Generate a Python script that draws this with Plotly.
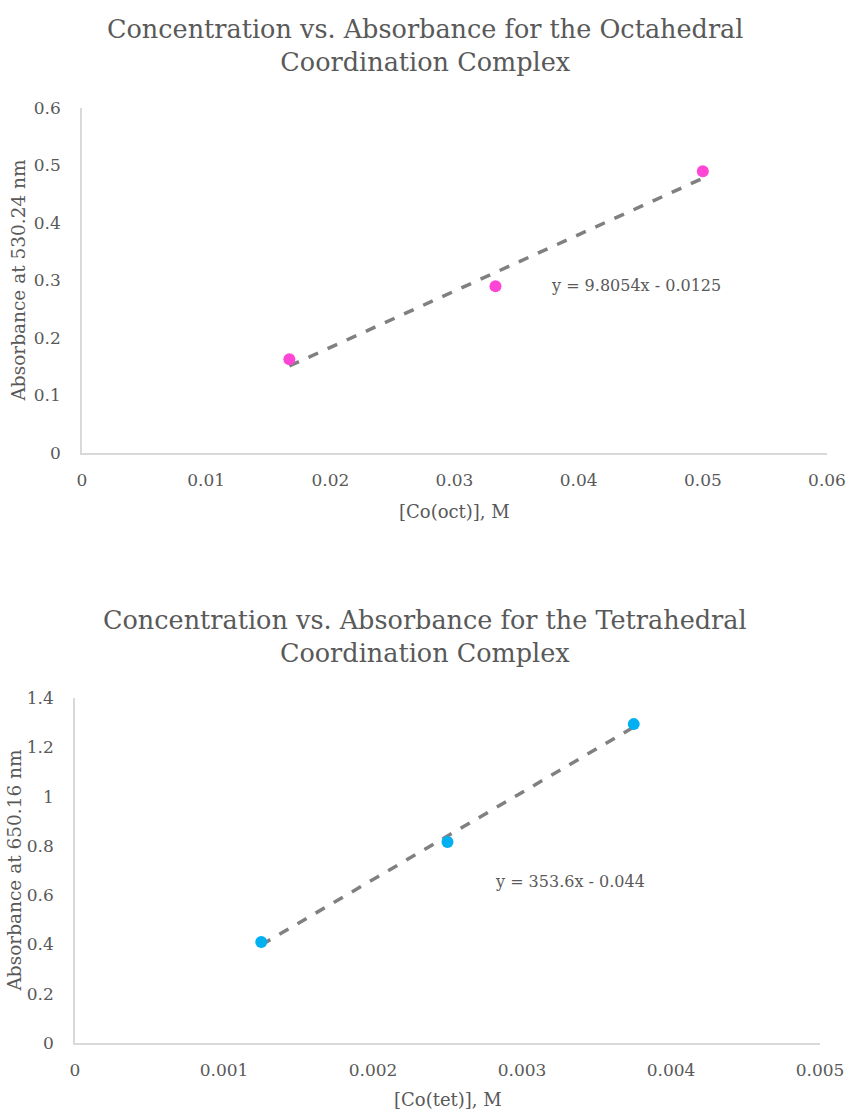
import plotly.graph_objects as go
import numpy as np

# ---- data ----
oct_conc = [0.0167, 0.0333, 0.05]
oct_abs = [0.163, 0.290, 0.490]
oct_fit = [9.8054, -0.0125]          # slope, intercept
oct_eq = "y = 9.8054x - 0.0125"

tet_conc = [0.00125, 0.0025, 0.00375]
tet_abs = [0.41, 0.816, 1.294]
tet_fit = [353.6, -0.044]
tet_eq = "y = 353.6x - 0.044"

titles = ["Concentration vs. Absorbance for the Octahedral<br>Coordination Complex",
          "Concentration vs. Absorbance for the Tetrahedral<br>Coordination Complex"]
xtitles = ["[Co(oct)], M", "[Co(tet)], M"]
ytitles = ["Absorbance at 530.24 nm", "Absorbance at 650.16 nm"]

W, H = 847, 1114
FONT = "DejaVu Serif"
GRAY = "#595959"
AXC = "#d9d9d9"

fig = go.Figure()

def px_x(p):
    return p / W

def px_y(p):
    return 1 - p / H

# panel geometry in reference pixels: (left, right, top, bottom)
panels = [(82, 827, 108, 453), (75, 820, 698, 1043)]
ranges = [([0, 0.06], 0.01, [0, 0.6], 0.1), ([0, 0.005], 0.001, [0, 1.4], 0.2)]
colors = ["#FF45D5", "#00B0F0"]
datasets = [(oct_conc, oct_abs, oct_fit, oct_eq), (tet_conc, tet_abs, tet_fit, tet_eq)]
eqpos = [(636, 285), (570, 881)]
titlepos = [46, 636]
ytitle_x = [18, 14]
xtitle_off = [58, 56]

for i, ((l, r, t, b), (xr, dx, yr, dy), col, (xs, ys, fit, eq)) in enumerate(zip(panels, ranges, colors, datasets)):
    xa = "x" if i == 0 else "x2"
    ya = "y" if i == 0 else "y2"
    xk = "xaxis" if i == 0 else "xaxis2"
    yk = "yaxis" if i == 0 else "yaxis2"
    fx = np.array([xs[0], xs[-1]])
    fy = fit[0] * fx + fit[1]
    fig.add_trace(go.Scatter(x=fx, y=fy, mode="lines", xaxis=xa, yaxis=ya,
                             line=dict(color="#808080", width=3.5, dash="dash"),
                             showlegend=False, hoverinfo="skip"))
    fig.add_trace(go.Scatter(x=xs, y=ys, mode="markers", xaxis=xa, yaxis=ya,
                             marker=dict(color=col, size=12), showlegend=False))
    fig.update_layout(**{
        xk: dict(domain=[px_x(l), px_x(r)], range=xr, dtick=dx, tick0=0, anchor=ya,
                 showgrid=False, zeroline=False, showline=True, linecolor=AXC, linewidth=1.5,
                 ticks="", ticklabelstandoff=11, automargin=False, ticklabeloverflow="allow",
                 tickfont=dict(family=FONT, size=17, color=GRAY)),
        yk: dict(domain=[px_y(b), px_y(t)], range=yr, dtick=dy, tick0=0, anchor=xa,
                 showgrid=False, zeroline=False, showline=True, linecolor=AXC, linewidth=1.5,
                 ticks="", ticklabelstandoff=16, automargin=False, ticklabeloverflow="allow",
                 tickfont=dict(family=FONT, size=17, color=GRAY)),
    })
    # equation label
    fig.add_annotation(x=px_x(eqpos[i][0]), y=px_y(eqpos[i][1]), xref="paper", yref="paper",
                       text=eq, showarrow=False, xanchor="center", yanchor="middle",
                       font=dict(family=FONT, size=16, color=GRAY))
    # chart title
    fig.add_annotation(x=px_x(425), y=px_y(titlepos[i]), xref="paper", yref="paper",
                       text=titles[i], showarrow=False, xanchor="center", yanchor="middle",
                       font=dict(family=FONT, size=25.5, color=GRAY))
    # x axis title
    fig.add_annotation(x=px_x((l + r) / 2), y=px_y(b + xtitle_off[i]), xref="paper", yref="paper",
                       text=xtitles[i], showarrow=False, xanchor="center", yanchor="middle",
                       font=dict(family=FONT, size=18, color=GRAY))
    # y axis title
    fig.add_annotation(x=px_x(ytitle_x[i]), y=px_y((t + b) / 2), xref="paper", yref="paper",
                       text=ytitles[i], showarrow=False, textangle=-90,
                       xanchor="center", yanchor="middle",
                       font=dict(family=FONT, size=18.5, color=GRAY))

fig.update_layout(width=W, height=H, margin=dict(l=0, r=0, t=0, b=0),
                  paper_bgcolor="white", plot_bgcolor="white", showlegend=False)

fig.write_html("out.html", config={"displayModeBar": False},
               post_script="document.body.style.margin='0';document.body.style.overflow='hidden';")
